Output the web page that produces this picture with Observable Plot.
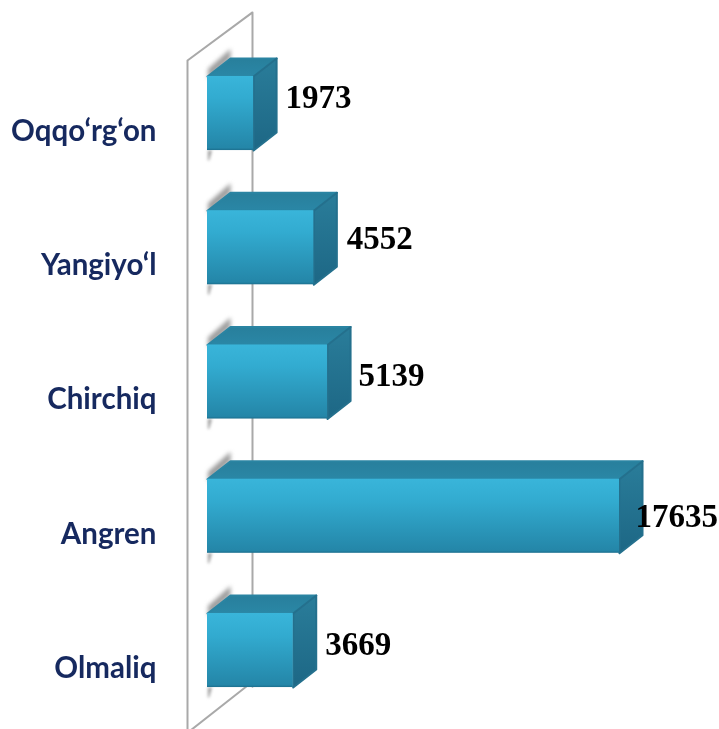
<!DOCTYPE html>
<html><head><meta charset="utf-8">
<script src="https://cdn.jsdelivr.net/npm/d3@7"></script>
<script src="https://cdn.jsdelivr.net/npm/@observablehq/plot@0.6"></script>
<style>html,body{margin:0;padding:0;background:#fff}svg{display:block}</style>
</head><body><div id="chart"></div>
<script>
const categories = ["Oqqo‘rg‘on", "Yangiyo‘l", "Chirchiq", "Angren", "Olmaliq"];
const values = [1973, 4552, 5139, 17635, 3669];
const labelNudgeX = [32, 33, 31, 16, 32];
const labelNudgeY = [-16, -9, -7, 0, -6];

// Depth of the pseudo-3D extrusion, in data units of each scale
const depthX = 985, depthY = 0.134, half = 0.276;
const rows = values.map((v, i) => ({name: categories[i], v, i, top: i - half, bottom: i + half}));

const poly = (id, pts) => pts.map(([x, y]) => ({id, x, y}));
const topFaces = rows.flatMap(r => poly(r.i, [[0, r.top], [r.v, r.top], [r.v + depthX, r.top - depthY], [depthX, r.top - depthY], [0, r.top]]));
const sideFaces = rows.flatMap(r => poly(r.i, [[r.v, r.top], [r.v + depthX, r.top - depthY], [r.v + depthX, r.bottom - depthY], [r.v, r.bottom], [r.v, r.top]]));
const shadowTop = rows.flatMap(r => poly(r.i, [[20, r.top + 0.02], [depthX, r.top - depthY], [depthX, r.top - depthY - 0.07], [20, r.top - 0.055], [20, r.top + 0.02]]));
const shadowBottom = rows.flatMap(r => poly(r.i, [[20, r.bottom], [190, r.bottom], [70, r.bottom + 0.075], [20, r.bottom + 0.075], [20, r.bottom]]));
const wallBack = [[1926, 4.27], [1926, -0.753], [-856, -0.395], [-856, 4.7]].map(([x, y]) => ({x, y}));
const wallFloor = [[-760, 4.6], [1650, 4.27]].map(([x, y]) => ({x, y}));

const defs = () => {
  const d = d3.create("svg:defs");
  const grad = (id, stops) => {
    const g = d.append("linearGradient").attr("id", id).attr("x1", 0).attr("y1", 0).attr("x2", 0).attr("y2", 1);
    stops.forEach(([o, c]) => g.append("stop").attr("offset", o).attr("stop-color", c));
  };
  grad("front", [[0, "#39b5da"], [0.3, "#32abd0"], [0.97, "#2486a8"], [1, "#1c6f8e"]]);
  grad("topf", [[0, "#287f9c"], [1, "#2a87a6"]]);
  grad("side", [[0, "#2a7d9a"], [1, "#1d6785"]]);
  return d.node();
};

const plot = Plot.plot({
  width: 719, height: 729,
  marginLeft: 207, marginRight: 0, marginTop: 0, marginBottom: 0,
  x: {domain: [0, 17635], range: [207, 619], axis: null},
  y: {domain: [0, 4], range: [113, 650], axis: null},
  style: {background: "#fff", overflow: "hidden", filter: "blur(0.45px)"},
  marks: [
    defs,
    Plot.line(wallBack, {x: "x", y: "y", stroke: "#a9a9a9", strokeWidth: 2}),
    Plot.line(wallFloor, {x: "x", y: "y", stroke: "#a9a9a9", strokeWidth: 2}),
    Plot.line(shadowTop, {x: "x", y: "y", z: "id", fill: "#9c9c9c", stroke: "none", imageFilter: "blur(2px)"}),
    Plot.line(shadowBottom, {x: "x", y: "y", z: "id", fill: "#9c9c9c", stroke: "none", imageFilter: "blur(1.5px)"}),
    Plot.axisY({anchor: "left", ticks: rows.map(r => r.i), tickFormat: i => categories[i], tickSize: 0, tickPadding: 51, dy: 18, label: null,
      fill: "#16295f", fontSize: 29.5, fontWeight: "bold", fontFamily: "Lato"}),
    Plot.line(topFaces, {x: "x", y: "y", z: "id", fill: "url(#topf)", stroke: "#2a84a2", strokeWidth: 2, strokeLinejoin: "round"}),
    Plot.line(sideFaces, {x: "x", y: "y", z: "id", fill: "url(#side)", stroke: "#24708d", strokeWidth: 2, strokeLinejoin: "round"}),
    Plot.rect(rows, {x1: 0, x2: "v", y1: "top", y2: "bottom", fill: "url(#front)"}),
    ...rows.map(r => Plot.text([r], {x: "v", y: "i", text: d => String(d.v), textAnchor: "start", dx: labelNudgeX[r.i], dy: labelNudgeY[r.i],
      fill: "#000", fontSize: 33, fontWeight: "bold", fontFamily: "Liberation Serif"}))
  ]
});
document.getElementById("chart").append(plot);
</script></body></html>
